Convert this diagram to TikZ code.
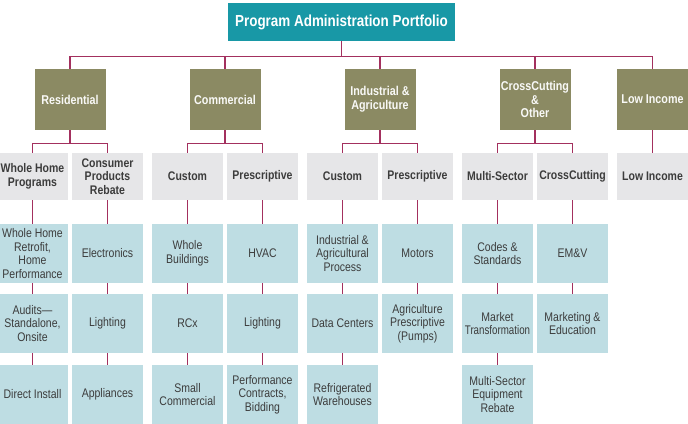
\documentclass[tikz,border=0pt]{standalone}
\usepackage{fontspec}
\setmainfont{Liberation Sans}[FakeStretch=0.84]
\definecolor{tealc}{HTML}{1898A6}
\definecolor{olivec}{HTML}{8B8A63}
\definecolor{grayc}{HTML}{E6E6E8}
\definecolor{bluec}{HTML}{BEDDE3}
\definecolor{connc}{HTML}{A3305E}
\definecolor{textc}{HTML}{3C3C3C}
\begin{document}
\begin{tikzpicture}[x=1pt,y=-1pt,
  every node/.style={inner sep=0pt,align=center},
  topbox/.style={fill=tealc,text=white,minimum width=227pt,minimum height=38pt,font=\bfseries\fontsize{16}{18}\selectfont},
  lvlone/.style={fill=olivec,text=white!95!olivec,minimum width=71pt,minimum height=61pt,font=\bfseries\fontsize{12.8}{13.7}\selectfont},
  lvltwo/.style={fill=grayc,text=textc,minimum width=70.5pt,minimum height=47pt,font=\bfseries\fontsize{12.5}{13.7}\selectfont},
  lvlthree/.style={fill=bluec,text=textc,minimum width=70.5pt,minimum height=59pt,font=\fontsize{12.5}{13.7}\selectfont},
  conn/.style={draw=connc,line width=1.4pt}]
\useasboundingbox (0,0) rectangle (688,423);
% top
\node[topbox] (top) at (341.5,22) {Program Administration Portfolio};
% level 1
\node[lvlone] (res) at (70,99.5) {Residential};
\node[lvlone] (com) at (225,99.5) {Commercial};
\node[lvlone] (ind) at (380,99.5) {Industrial \&\\Agriculture};
\node[lvlone] (cro) at (535,99.5) {CrossCutting\\\&\\Other};
\node[lvlone] (low) at (652.5,99.5) {Low Income};
% level 2
\node[lvltwo] (wh) at (32.5,176.5) {Whole Home\\Programs};
\node[lvltwo] (cp) at (107.5,176.5) {Consumer\\Products\\Rebate};
\node[lvltwo] (cc) at (187.5,176.5) {Custom};
\node[lvltwo] (cpr) at (262.5,176.5) {Prescriptive};
\node[lvltwo] (ic) at (342.5,176.5) {Custom};
\node[lvltwo] (ipr) at (417.5,176.5) {Prescriptive};
\node[lvltwo] (ms) at (497.5,176.5) {Multi-Sector};
\node[lvltwo] (xc) at (572.5,176.5) {CrossCutting};
\node[lvltwo] (li) at (652.5,176.5) {Low Income};
% level 3 row 1
\node[lvlthree] (a1) at (32.5,253.5) {Whole Home\\Retrofit,\\Home\\Performance};
\node[lvlthree] (b1) at (107.5,253.5) {Electronics};
\node[lvlthree] (c1) at (187.5,253.5) {Whole\\Buildings};
\node[lvlthree] (d1) at (262.5,253.5) {HVAC};
\node[lvlthree] (e1) at (342.5,253.5) {Industrial \&\\Agricultural\\Process};
\node[lvlthree] (f1) at (417.5,253.5) {Motors};
\node[lvlthree] (g1) at (497.5,253.5) {Codes \&\\Standards};
\node[lvlthree] (h1) at (572.5,253.5) {EM\&V};
% row 2
\node[lvlthree] (a2) at (32.5,323.5) {Audits—\\Standalone,\\Onsite};
\node[lvlthree] (b2) at (107.5,323.5) {Lighting};
\node[lvlthree] (c2) at (187.5,323.5) {RCx};
\node[lvlthree] (d2) at (262.5,323.5) {Lighting};
\node[lvlthree] (e2) at (342.5,323.5) {Data Centers};
\node[lvlthree] (f2) at (417.5,323.5) {Agriculture\\Prescriptive\\(Pumps)};
\node[lvlthree] (g2) at (497.5,323.5) {Market\\{\addfontfeature{FakeStretch=0.78}Transformation}};
\node[lvlthree] (h2) at (572.5,323.5) {Marketing \&\\Education};
% row 3
\node[lvlthree] (a3) at (32.5,394.5) {Direct Install};
\node[lvlthree] (b3) at (107.5,394.5) {Appliances};
\node[lvlthree] (c3) at (187.5,394.5) {Small\\Commercial};
\node[lvlthree] (d3) at (262.5,394.5) {Performance\\Contracts,\\Bidding};
\node[lvlthree] (e3) at (342.5,394.5) {Refrigerated\\Warehouses};
\node[lvlthree] (g3) at (497.5,394.5) {Multi-Sector\\Equipment\\Rebate};
% connectors top
\foreach \n in {res,com,ind,cro,low}
  \draw[conn] (top.south) -- ++(0,15) -| (\n.north);
% level1 to level2
\foreach \p/\a/\b in {res/wh/cp,com/cc/cpr,ind/ic/ipr,cro/ms/xc}{
  \draw[conn] (\p.south) -- ++(0,13) -| (\a.north);
  \draw[conn] (\p.south) -- ++(0,13) -| (\b.north);
}
\draw[conn] (low.south) -- (li.north);
% columns
\foreach \u/\v in {wh/a1,a1/a2,a2/a3,cp/b1,b1/b2,b2/b3,cc/c1,c1/c2,c2/c3,cpr/d1,d1/d2,d2/d3,ic/e1,e1/e2,e2/e3,ipr/f1,f1/f2,ms/g1,g1/g2,g2/g3,xc/h1,h1/h2}
  \draw[conn] (\u.south) -- (\v.north);
\end{tikzpicture}
\end{document}
